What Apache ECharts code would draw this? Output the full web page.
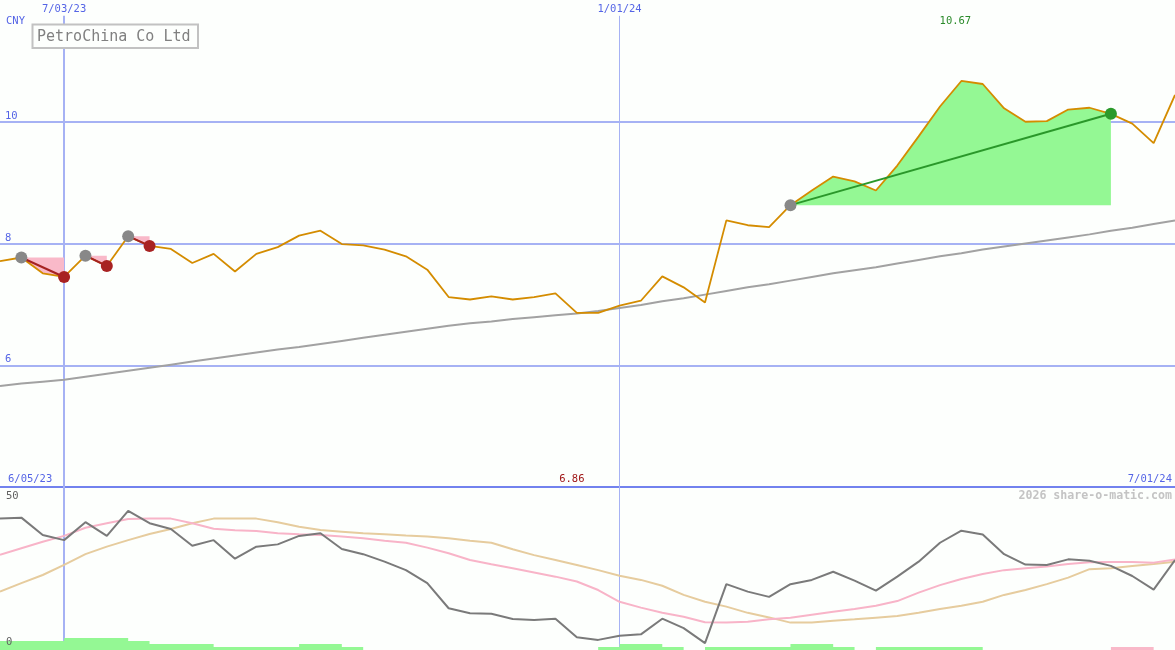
<!DOCTYPE html>
<html><head><meta charset="utf-8">
<script src="https://cdn.jsdelivr.net/npm/echarts@6/dist/echarts.min.js"></script>
<style>html,body{margin:0;padding:0;background:#fdfffd}#c{width:1175px;height:650px}</style>
</head><body><div id="c"></div>
<script>
// ---------- data ----------
const categories = ['6/12/23','6/19/23','6/26/23','7/03/23','7/10/23','7/17/23','7/24/23','7/31/23','8/07/23','8/14/23',
  '8/21/23','8/28/23','9/04/23','9/11/23','9/18/23','9/25/23','10/02/23','10/09/23','10/16/23','10/23/23',
  '10/30/23','11/06/23','11/13/23','11/20/23','11/27/23','12/04/23','12/11/23','12/18/23','12/25/23','1/01/24',
  '1/08/24','1/15/24','1/22/24','1/29/24','2/05/24','2/12/24','2/19/24','2/26/24','3/04/24','3/11/24',
  '3/18/24','3/25/24','4/01/24','4/08/24','4/15/24','4/22/24','4/29/24','5/06/24','5/13/24','5/20/24',
  '5/27/24','6/03/24','6/10/24','6/17/24','6/24/24','7/01/24'];
const tickLabels = ['7/03/23','1/01/24'];
const tickWidths = [2, 1];
const rangeLabels = ['6/05/23','7/01/24'];
const priceTicks = [6, 8, 10];
const indTicks = ['50', '0'];
const title = 'PetroChina Co Ltd';
const currency = 'CNY';
const watermark = '2026 share-o-matic.com';

const price = [7.71,7.77,7.51,7.45,7.80,7.63,8.12,7.96,7.91,7.68,
  7.83,7.54,7.83,7.94,8.13,8.21,7.99,7.97,7.90,7.79,
  7.57,7.12,7.08,7.13,7.08,7.12,7.18,6.86,6.86,6.98,
  7.06,7.46,7.28,7.03,8.38,8.30,8.27,8.63,8.87,9.10,
  9.02,8.87,9.28,9.76,10.25,10.67,10.62,10.22,10.00,10.01,
  10.20,10.23,10.13,9.97,9.65,10.44];
const movingAvg = [5.66,5.70,5.73,5.76,5.81,5.86,5.91,5.96,6.01,6.06,
  6.11,6.16,6.21,6.26,6.30,6.35,6.40,6.45,6.50,6.55,
  6.60,6.65,6.69,6.72,6.76,6.79,6.82,6.85,6.89,6.94,
  6.99,7.05,7.10,7.16,7.22,7.28,7.33,7.39,7.45,7.51,
  7.56,7.61,7.67,7.73,7.79,7.84,7.90,7.95,8.00,8.05,
  8.10,8.15,8.21,8.26,8.32,8.38];
// trades: [entry index, exit index]
const tradeEntry = [1, 4, 6, 37];
const tradeExit  = [3, 5, 7, 52];

const indDark = [40.3,40.6,35.3,33.7,39.2,35.0,42.7,38.9,37.1,32.0,
  33.7,28.0,31.7,32.4,35.0,35.8,31.0,29.4,27.1,24.5,
  20.5,12.8,11.3,11.1,9.5,9.2,9.6,3.9,3.1,4.4,
  4.8,9.6,6.7,2.1,20.2,17.9,16.3,20.2,21.5,24.0,
  21.3,18.2,22.5,27.1,32.9,36.6,35.4,29.4,26.2,26.1,
  27.8,27.4,25.8,22.7,18.5,27.6];
const indPink = [29.2,31.2,33.2,35.0,37.5,38.9,40.2,40.3,40.3,38.9,
  37.2,36.7,36.5,35.8,35.5,35.3,34.8,34.3,33.5,32.9,
  31.4,29.7,27.6,26.3,25.1,23.8,22.5,21.0,18.4,14.8,
  13.0,11.4,10.2,8.5,8.4,8.7,9.4,9.9,10.8,11.7,
  12.6,13.6,15.0,17.6,19.9,21.8,23.3,24.5,25.1,25.6,
  26.4,26.9,27.0,27.0,26.8,27.8];
const indTan = [17.9,20.5,23.0,26.1,29.4,31.7,33.7,35.6,37.1,38.9,
  40.3,40.3,40.3,39.2,37.8,36.8,36.3,35.8,35.5,35.1,
  34.8,34.3,33.5,32.9,30.9,29.1,27.6,26.1,24.5,22.8,
  21.5,19.7,16.9,14.8,13.3,11.4,10.0,8.4,8.4,9.0,
  9.4,9.9,10.4,11.4,12.6,13.6,14.8,16.9,18.4,20.2,
  22.2,24.8,25.1,25.8,26.4,27.1];
const histGreen = [3,3,3,4,4,4,3,2,2,2,
  1,1,1,1,2,2,1,0,0,0,
  0,0,0,0,0,0,0,0,1,2,
  2,1,0,1,1,1,1,2,2,1,
  0,1,1,1,1,1,0,0,0,0,
  0,0,0,0,0,0];
const histPink = [0,0,0,0,0,0,0,0,0,0,
  0,0,0,0,0,0,0,0,0,0,
  0,0,0,0,0,0,0,0,0,0,
  0,0,0,0,0,0,0,0,0,0,
  0,0,0,0,0,0,0,0,0,0,
  0,0,1,1,0,0];

// ---------- style ----------
const FONT = '"DejaVu Sans Mono", monospace';
const FS = 10.5;
const BLUE_TXT = '#5565e6';
const GRID_C = '#a6b2f4';
const SEP_C = '#7282ee';
const BG = '#fdfffd';

const chart = echarts.init(document.getElementById('c'), null, {renderer: 'canvas'});

const series = [];
// trade fills
tradeEntry.forEach((e, k) => {
  const x = tradeExit[k];
  const win = price[x] > price[e];
  const base = categories.map(() => '-');
  const diff = categories.map(() => '-');
  for (let i = e; i <= x; i++) {
    base[i] = Math.min(price[e], price[i]);
    diff[i] = Math.abs(price[i] - price[e]);
  }
  series.push({type: 'line', xAxisIndex: 0, yAxisIndex: 0, data: base, stack: 'fill' + k,
    symbol: 'none', silent: true, z: 2, lineStyle: {width: 0, opacity: 0}});
  series.push({type: 'line', xAxisIndex: 0, yAxisIndex: 0, data: diff, stack: 'fill' + k,
    symbol: 'none', silent: true, z: 2, lineStyle: {width: 0, opacity: 0},
    areaStyle: {color: win ? '#94f894' : '#f9b9c9', opacity: 1}});
});
// moving average
series.push({type: 'line', xAxisIndex: 0, yAxisIndex: 0, data: movingAvg, symbol: 'none', z: 3,
  lineStyle: {color: '#a2a2a2', width: 2}});
// price
series.push({type: 'line', xAxisIndex: 0, yAxisIndex: 0, data: price, symbol: 'none', z: 4,
  lineStyle: {color: '#d48c00', width: 1.8},
  markLine: {silent: true, symbol: 'none', z: 1, label: {show: false},
    data: tickLabels.map((t, j) => [
      {coord: [t, 11.74], lineStyle: {color: GRID_C, width: tickWidths[j], type: 'solid'}},
      {coord: [t, 4]}])}});
// trade lines + markers
tradeEntry.forEach((e, k) => {
  const x = tradeExit[k];
  const win = price[x] > price[e];
  series.push({type: 'line', xAxisIndex: 0, yAxisIndex: 0, z: 5,
    data: [
      {value: [categories[e], price[e]], itemStyle: {color: '#888888'}},
      {value: [categories[x], price[x]], itemStyle: {color: win ? '#2a9a2a' : '#a82222'}}],
    symbol: 'circle', symbolSize: 12,
    lineStyle: {color: win ? '#2a982a' : '#a52222', width: 2}});
});
// indicator panel
series.push({type: 'line', xAxisIndex: 2, yAxisIndex: 2, data: histGreen, step: 'end', symbol: 'none', z: 2,
  lineStyle: {width: 0, opacity: 0}, areaStyle: {color: '#94f894', opacity: 1}});
series.push({type: 'line', xAxisIndex: 2, yAxisIndex: 2, data: histPink, step: 'end', symbol: 'none', z: 2,
  lineStyle: {width: 0, opacity: 0}, areaStyle: {color: '#f9b9c9', opacity: 1}});
series.push({type: 'line', xAxisIndex: 2, yAxisIndex: 1, data: indTan, symbol: 'none', z: 3,
  lineStyle: {color: '#e6cc9e', width: 2}});
series.push({type: 'line', xAxisIndex: 2, yAxisIndex: 1, data: indPink, symbol: 'none', z: 3,
  lineStyle: {color: '#f8b4c8', width: 2}});
series.push({type: 'line', xAxisIndex: 2, yAxisIndex: 1, data: indDark, symbol: 'none', z: 4,
  lineStyle: {color: '#7a7a7a', width: 2},
  markLine: {silent: true, symbol: 'none', z: 1, label: {show: false},
    data: tickLabels.map((t, j) => ({xAxis: t, lineStyle: {color: GRID_C, width: tickWidths[j], type: 'solid'}}))}});

chart.setOption({
  animation: false,
  backgroundColor: BG,
  grid: [
    {left: 0, right: 0, top: 0, height: 487},
    {left: 0, right: 0, top: 487, height: 163}
  ],
  xAxis: [
    {type: 'category', gridIndex: 0, data: categories, boundaryGap: false, position: 'bottom',
      axisLine: {show: true, lineStyle: {color: SEP_C, width: 2}}, axisTick: {show: false},
      axisLabel: {show: false}, splitLine: {show: false}},
    {type: 'category', gridIndex: 0, data: categories, boundaryGap: false, position: 'top',
      axisLine: {show: false}, axisTick: {show: false}, splitLine: {show: false},
      axisLabel: {inside: true, margin: 4, color: BLUE_TXT, fontFamily: FONT, fontSize: FS,
        interval: (i, v) => tickLabels.includes(v)}},
    {type: 'category', gridIndex: 1, data: categories, boundaryGap: false, show: false}
  ],
  yAxis: [
    {type: 'value', gridIndex: 0, min: 4, max: 12, interval: 2,
      axisLine: {show: false}, axisTick: {show: false},
      splitLine: {show: true, showMinLine: false, showMaxLine: false, lineStyle: {color: GRID_C, width: 2}},
      axisLabel: {inside: true, margin: 5, color: BLUE_TXT, fontFamily: FONT, fontSize: FS,
        verticalAlign: 'bottom', formatter: v => priceTicks.includes(v) ? String(v) : ''}},
    {type: 'value', gridIndex: 1, min: 0, max: 50, show: false, splitLine: {show: false}},
    {type: 'value', gridIndex: 1, min: 0, max: 54.33, show: false, splitLine: {show: false}}
  ],
  series: series
});

// text overlays
const maxIdx = price.indexOf(Math.max(...price));
const minIdx = price.indexOf(Math.min(...price));
const maxX = chart.convertToPixel({xAxisIndex: 0}, categories[maxIdx]);
const minX = chart.convertToPixel({xAxisIndex: 0}, categories[minIdx]);
const txt = (x, y, text, fill, align, extra) => Object.assign({type: 'text', x: x, y: y, z: 100,
  style: Object.assign({text: text, fill: fill, font: FS + 'px ' + FONT, textAlign: align || 'left', textVerticalAlign: 'middle'}, extra || {})});

chart.setOption({
  graphic: [
    {type: 'rect', shape: {x: 32.5, y: 24.5, width: 165.5, height: 23.5}, z: 100,
      style: {fill: BG, stroke: '#c2c2c2', lineWidth: 2}},
    txt(37, 37, title, '#808080', 'left', {font: '15px ' + FONT}),
    txt(6, 21, currency, BLUE_TXT),
    txt(8, 479, rangeLabels[0], BLUE_TXT),
    txt(1172, 479, rangeLabels[1], BLUE_TXT, 'right'),
    txt(1172, 496, watermark, '#c4c4c4', 'right', {font: 'bold 11.6px ' + FONT}),
    txt(6, 496, indTicks[0], '#606060'),
    txt(6, 642, indTicks[1], '#606060'),
    txt(maxX - 6, 21, price[maxIdx].toFixed(2), '#2a8a2a', 'center'),
    txt(minX - 5, 479, price[minIdx].toFixed(2), '#a01818', 'center')
  ]
});
</script>
</body></html>
